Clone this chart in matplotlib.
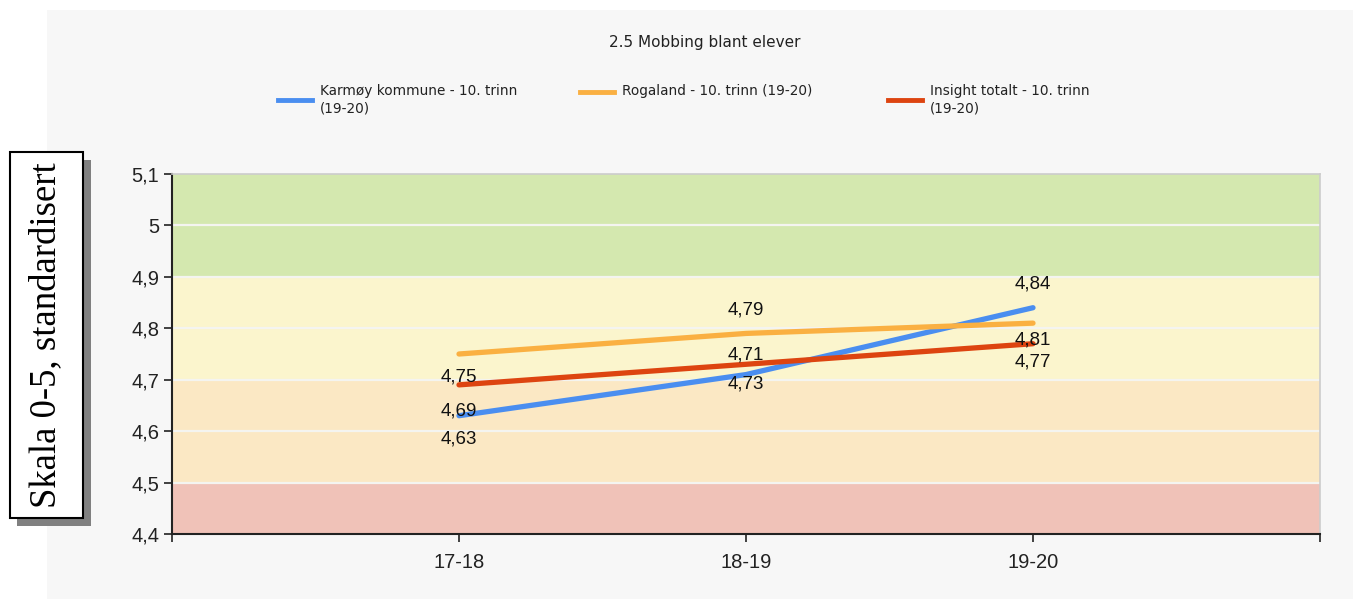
import matplotlib
matplotlib.use("Agg")
import matplotlib.pyplot as plt
from matplotlib.patches import Rectangle
from matplotlib.lines import Line2D

# ---- data ----
categories = ["17-18", "18-19", "19-20"]
series_names = ["Karmøy kommune - 10. trinn\n(19-20)",
                "Rogaland - 10. trinn (19-20)",
                "Insight totalt - 10. trinn\n(19-20)"]
karmoy = [4.63, 4.71, 4.84]
rogaland = [4.75, 4.79, 4.81]
insight = [4.69, 4.73, 4.77]
y_ticks = [4.4, 4.5, 4.6, 4.7, 4.8, 4.9, 5.0, 5.1]
y_tick_labels = ["4,4", "4,5", "4,6", "4,7", "4,8", "4,9", "5", "5,1"]
bands = [(4.4, 4.5), (4.5, 4.7), (4.7, 4.9), (4.9, 5.1)]
title = "2.5 Mobbing blant elever"
ylabel = "Skala 0-5, standardisert"

# ---- style ----
colors = ["#4a8ef0", "#fab042", "#dd4410"]
band_colors = ["#f0c2b8", "#fbe8c4", "#fbf5cd", "#d4e8af"]
# label vertical offsets in pixels, positive = up (per series, per category)
label_offsets = [[-23, 20, 24], [-23, 23, -17], [-26, -20, -18]]

W, H = 1353, 599
fig = plt.figure(figsize=(W / 100, H / 100), dpi=100)
fig.patch.set_facecolor("white")

# grey panel
fig.add_artist(Rectangle((47 / W, 0), 1 - 47 / W, 1 - 10 / H, transform=fig.transFigure,
                         facecolor="#f7f7f7", edgecolor="none", zorder=0))

ax = fig.add_axes([172 / W, 1 - 534 / H, (1320 - 172) / W, (534 - 174) / H])
ax.set_facecolor("none")
x = list(range(len(categories)))
ax.set_xlim(-1, 3)
ax.set_ylim(4.4, 5.1)

for (lo, hi), c in zip(bands, band_colors):
    ax.axhspan(lo, hi, facecolor=c, edgecolor="none", zorder=0)
for yt in y_ticks[1:-1]:
    ax.axhline(yt, color="#f4f4f0", lw=1.6, zorder=1)

all_series = [karmoy, rogaland, insight]
for vals, c, offs in zip(all_series, colors, label_offsets):
    ax.plot(x, vals, color=c, lw=3.8, solid_capstyle="round", zorder=3)
    for xi, v, o in zip(x, vals, offs):
        ax.annotate(f"{v:.2f}".replace(".", ","), (xi, v), xytext=(0, o * 0.72),
                    textcoords="offset points", ha="center", va="center",
                    fontsize=13.5, color="#111111", zorder=4,
                    family="Liberation Sans")

ax.set_xticks([-1] + x + [3])
ax.set_xticklabels([""] + categories + [""], fontsize=14.5, color="#222222",
                   family="Liberation Sans")
ax.set_yticks(y_ticks)
ax.set_yticklabels(y_tick_labels, fontsize=14.5, color="#222222", family="Liberation Sans")
ax.tick_params(axis="both", direction="out", length=6, width=1.2, color="#222222")
ax.tick_params(axis="x", pad=8)
ax.tick_params(axis="y", pad=3)
for s in ["left", "bottom"]:
    ax.spines[s].set_color("#222222")
    ax.spines[s].set_linewidth(1.5)
for s in ["top", "right"]:
    ax.spines[s].set_color("#cccccc")
    ax.spines[s].set_linewidth(1.2)

# title
fig.text(705 / W, 1 - 43 / H, title, ha="center", va="center", fontsize=11,
         color="#222222", family="DejaVu Sans")

# manual legend
leg_pos = [(278, 100, 320, 92), (580, 92, 622, 92), (888, 100, 930, 92)]
for (lx, ly, tx, ty), c, name in zip(leg_pos, colors, series_names):
    fig.add_artist(Line2D([lx / W, (lx + 34) / W], [1 - ly / H, 1 - ly / H],
                          transform=fig.transFigure, color=c, lw=3.5))
    fig.text(tx / W, 1 - (ty - 8) / H, name, ha="left", va="top", fontsize=9.8,
             color="#222222", family="DejaVu Sans", linespacing=1.35)

# y-label box with shadow
fig.add_artist(Rectangle((17 / W, 1 - 526 / H), 74 / W, 366 / H, transform=fig.transFigure,
                         facecolor="#808080", edgecolor="none", zorder=5))
fig.add_artist(Rectangle((10 / W, 1 - 518 / H), 73 / W, 366 / H, transform=fig.transFigure,
                         facecolor="white", edgecolor="black", lw=1.5, zorder=6))
fig.text(46 / W, 1 - 335 / H, ylabel, rotation=90, ha="center", va="center",
         fontsize=26.5, family="Liberation Serif", color="black", zorder=7)

fig.savefig("out.png", dpi=100)
